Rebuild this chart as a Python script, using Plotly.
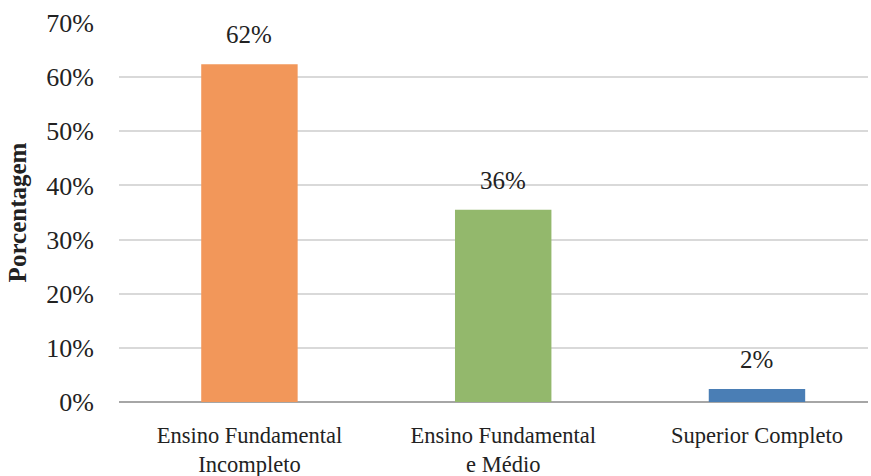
import plotly.graph_objects as go

# Nível de escolaridade e participação percentual
categorias = ["Ensino Fundamental<br>Incompleto", "Ensino Fundamental<br>e Médio", "Superior Completo"]
porcentagens = [0.624, 0.355, 0.024]
cores = ["#F2975A", "#93B86C", "#4A7EB5"]
ticks_y = [0, 0.1, 0.2, 0.3, 0.4, 0.5, 0.6, 0.7]
rotulos_y = ["0%", "10%", "20%", "30%", "40%", "50%", "60%", "70%"]

FONTE = "Liberation Serif"

fig = go.Figure(
    go.Bar(
        x=list(range(len(categorias))),
        y=porcentagens,
        marker=dict(color=cores, line=dict(width=0)),
        width=0.38,
        hoverinfo="skip",
    )
)

# Rótulos de valor acima de cada barra
for i, v in enumerate(porcentagens):
    fig.add_annotation(
        x=i, y=v, text=f"{v:.0%}", showarrow=False,
        yanchor="bottom", yshift=14,
        font=dict(family=FONTE, size=25, color="#222222"),
    )

fig.update_layout(
    width=871, height=476,
    margin=dict(l=119, r=3, t=23, b=74),
    paper_bgcolor="white", plot_bgcolor="white",
    showlegend=False,
    font=dict(family=FONTE, color="#222222"),
    xaxis=dict(
        range=[-0.514, 2.4375],
        tickmode="array",
        tickvals=list(range(len(categorias))),
        ticktext=categorias,
        tickfont=dict(family=FONTE, size=22.5, color="#222222"),
        showgrid=False, zeroline=False, showline=False,
        ticks="", ticklen=0, ticklabelstandoff=17,
        automargin=False,
    ),
    yaxis=dict(
        range=[0, 0.7],
        tickmode="array",
        tickvals=ticks_y,
        ticktext=rotulos_y,
        tickfont=dict(family=FONTE, size=26, color="#222222"),
        showgrid=True, gridcolor="#D9D9D9", gridwidth=1.5,
        zeroline=True, zerolinecolor="#A6A6A6", zerolinewidth=2,
        showline=False, ticks="", ticklabelstandoff=24,
        automargin=False,
        title=dict(
            text="<b>Porcentagem</b>",
            font=dict(family=FONTE, size=25, color="#222222"),
            standoff=12,
        ),
    ),
)

fig.write_html("out.html")
